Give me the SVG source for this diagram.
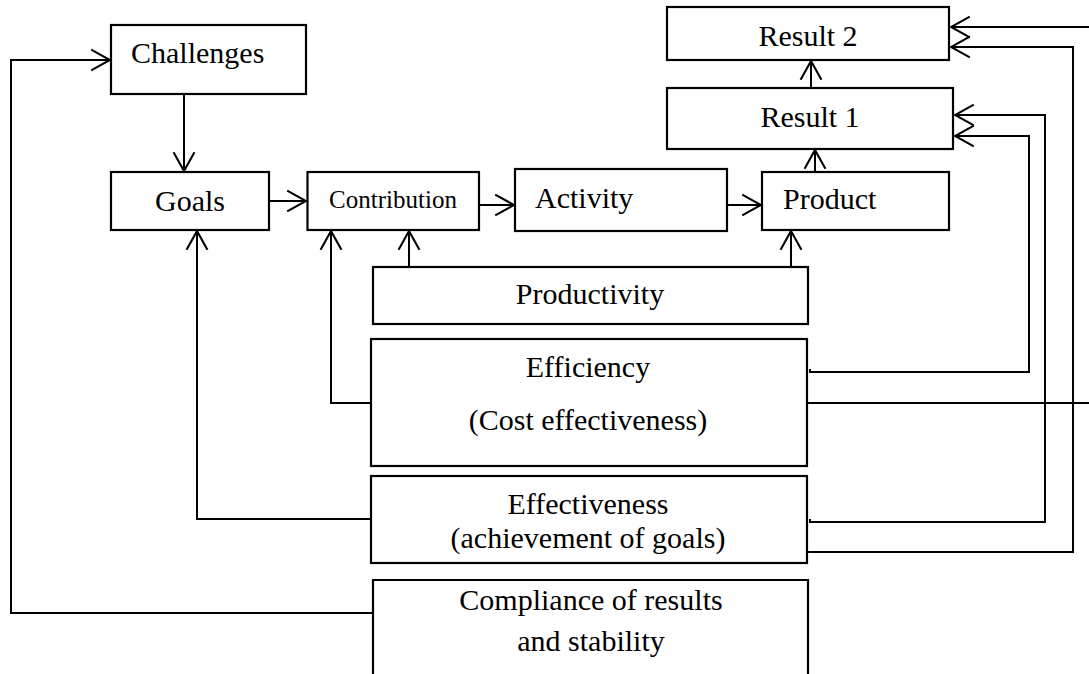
<svg xmlns="http://www.w3.org/2000/svg" width="1089" height="674" viewBox="0 0 1089 674">
<style>
.box{fill:#fff;stroke:#000;stroke-width:2.2}
.t{font-family:"Liberation Serif","Times New Roman",serif;font-size:30px;fill:#000}
.c{text-anchor:middle}
.ln{fill:none;stroke:#000;stroke-width:2}
.ar{marker-end:url(#open)}
</style>
<defs>
<marker id="open" markerUnits="userSpaceOnUse" markerWidth="24" markerHeight="26" viewBox="-21 -12 23 24" refX="0" refY="0" orient="auto">
<path d="M-18,-10 L0,0 L-18,10" fill="none" stroke="#000" stroke-width="2"/>
</marker>
</defs>
<rect width="1089" height="674" fill="#fff"/>
<g id="connectors">
<path class="ln ar" d="M184,94 V171"/>
<path class="ln ar" d="M269,201 H306"/>
<path class="ln ar" d="M479,205 H514"/>
<path class="ln ar" d="M727,205 H761"/>
<path class="ln ar" d="M815,172 V150"/>
<path class="ln ar" d="M811,88 V61"/>
<path class="ln ar" d="M409,267 V231"/>
<path class="ln ar" d="M791,267 V231"/>
<path class="ln ar" d="M371,403 H331 V231"/>
<path class="ln ar" d="M371,519 H197 V231"/>
<path class="ln ar" d="M373,613 H11 V60 H110"/>
<path class="ln ar" d="M810,369 V372 H1029 V136 H955"/>
<path class="ln ar" d="M810,519 V522 H1045 V115 H955"/>
<path class="ln ar" d="M807,552 H1073 V47 H951"/>
<path class="ln" d="M807,403 H1089"/>
<path class="ln ar" d="M1089,27 H951"/>
</g>
<g id="challenges"><rect class="box" x="111" y="25" width="195" height="69"/><text class="t" x="131" y="63">Challenges</text></g>
<g id="goals"><rect class="box" x="111" y="172" width="158" height="58"/><text class="t c" x="190" y="211">Goals</text></g>
<g id="contribution"><rect class="box" x="307.5" y="172" width="171.5" height="58"/><text class="t c" x="393" y="208" style="font-size:25px">Contribution</text></g>
<g id="activity"><rect class="box" x="515" y="169" width="212" height="62"/><text class="t" x="535" y="208">Activity</text></g>
<g id="product"><rect class="box" x="762" y="172" width="187" height="58"/><text class="t" x="783" y="209">Product</text></g>
<g id="result1"><rect class="box" x="667" y="88" width="286" height="61"/><text class="t c" x="810" y="127">Result 1</text></g>
<g id="result2"><rect class="box" x="667" y="7" width="282" height="53"/><text class="t c" x="808" y="46">Result 2</text></g>
<g id="productivity"><rect class="box" x="373" y="267" width="435" height="57"/><text class="t c" x="590" y="304">Productivity</text></g>
<g id="efficiency"><rect class="box" x="371" y="339" width="436" height="127"/><text class="t c" x="588" y="377">Efficiency</text><text class="t c" x="588" y="430">(Cost effectiveness)</text></g>
<g id="effectiveness"><rect class="box" x="371" y="476" width="436" height="87"/><text class="t c" x="588" y="514">Effectiveness</text><text class="t c" x="588" y="548">(achievement of goals)</text></g>
<g id="compliance"><path class="box" d="M373,678 V580 H808 V678"/><text class="t c" x="591" y="610">Compliance of results</text><text class="t c" x="591" y="651">and stability</text></g>
</svg>
